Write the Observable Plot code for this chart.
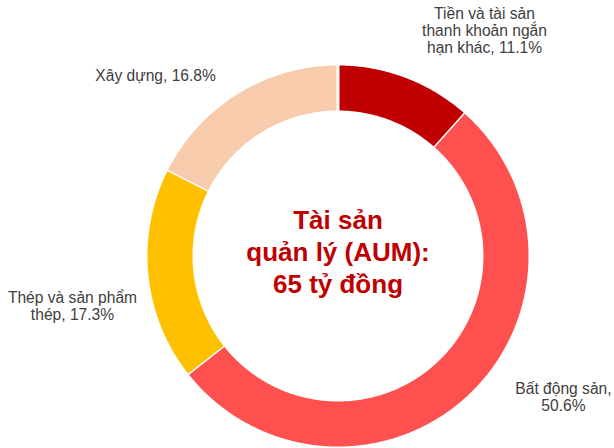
<!DOCTYPE html>
<html><head><meta charset="utf-8">
<script src="https://cdn.jsdelivr.net/npm/d3@7"></script>
<script src="https://cdn.jsdelivr.net/npm/@observablehq/plot@0.6"></script>
<style>body{margin:0;background:#fff;} svg{display:block;}</style>
</head><body><div id="chart"></div>
<script>
// ---- data ----
const categories = ["Tiền và tài sản thanh khoản ngắn hạn khác", "Bất động sản", "Thép và sản phẩm thép", "Xây dựng"];
const shares = [11.1, 50.6, 17.3, 16.8];
const labelTexts = ["Tiền và tài sản\nthanh khoản ngắn\nhạn khác, 11.1%", "Bất động sản,\n50.6%", "Thép và sản phẩm\nthép, 17.3%", "Xây dựng, 16.8%"];
const sliceColors = ["#C00000", "#FF5050", "#FFC000", "#F8CBAD"];
const centerTitle = "Tài sản\nquản lý (AUM):\n65 tỷ đồng";

// ---- layout (not data) ----
const W = 614, H = 448;
const cx = 337.5, cy = 255.5, R = 190.5;     // pixel center & outer radius
const rOuter = 1 + 1.5 / R, rInner = 145.5 / R - 1.5 / R;
const labelPolar = [[33.0, 1.412], [122.1, 1.397], [259.4, 1.418], [314.7, 1.347]];

const total = d3.sum(shares);
let acc = 0;
const slicePts = [];
categories.forEach((c, i) => {
  const a0 = acc / total * 360, a1 = (acc + shares[i]) / total * 360;
  acc += shares[i];
  const n = Math.max(2, Math.ceil((a1 - a0) / 0.5));
  const outer = [], inner = [];
  for (let k = 0; k <= n; k++) {
    const a = (a0 + (a1 - a0) * k / n) * Math.PI / 180;
    outer.push({cat: c, x: rOuter * Math.sin(a), y: rOuter * Math.cos(a)});
    inner.push({cat: c, x: rInner * Math.sin(a), y: rInner * Math.cos(a)});
  }
  slicePts.push(...outer, ...inner.reverse());
});

const labels = labelTexts.map((t, i) => {
  const a = labelPolar[i][0] * Math.PI / 180, r = labelPolar[i][1];
  return {text: t, x: r * Math.sin(a), y: r * Math.cos(a)};
});

const chart = Plot.plot({
  width: W, height: H, margin: 0,
  style: {background: "#fff", fontFamily: "'Liberation Sans', Arial, sans-serif"},
  x: {domain: [-cx / R, (W - cx) / R], axis: null},
  y: {domain: [-(H - cy) / R, cy / R], axis: null},
  color: {domain: categories, range: sliceColors},
  marks: [
    Plot.line(slicePts, {x: "x", y: "y", z: "cat", fill: "cat", stroke: "white", strokeWidth: 3, curve: "linear"}),
    Plot.text(labels, {x: "x", y: "y", text: "text", fontSize: 15.6, lineHeight: 1.09, fill: "#404040", textAnchor: "middle"}),
    Plot.text([centerTitle], {x: () => 0, y: () => 0, text: d => d, dy: -5, fontSize: 26, fontWeight: "bold", lineHeight: 1.23, fill: "#C00000", textAnchor: "middle"})
  ]
});
document.getElementById("chart").appendChild(chart);
</script>
</body></html>
